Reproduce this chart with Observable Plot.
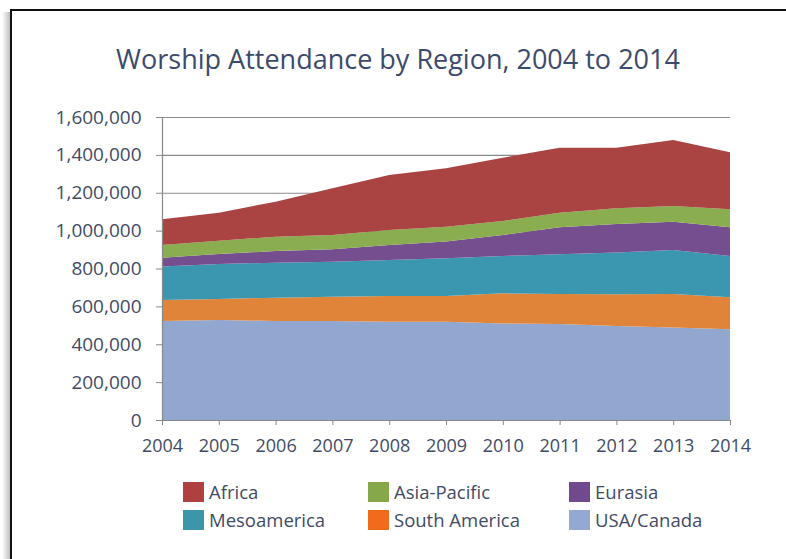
<!DOCTYPE html>
<html>
<head>
<meta charset="utf-8">
<script src="https://cdn.jsdelivr.net/npm/d3@7"></script>
<script src="https://cdn.jsdelivr.net/npm/@observablehq/plot@0.6"></script>
<style>
  html, body { margin: 0; padding: 0; background: #fff; overflow: hidden; }
  #wrap { position: relative; width: 786px; height: 559px; overflow: hidden; background: #fff; font-family: "Open Sans", sans-serif; }
  #shadow { position: absolute; left: 2px; top: 12px; width: 8px; height: 560px; background: linear-gradient(to right, rgba(0,0,0,0), rgba(0,0,0,0.25)); }
  #vline { position: absolute; left: 10px; top: 9px; width: 2px; height: 560px; background: #111; }
  #hline { position: absolute; left: 10px; top: 9px; width: 800px; height: 2px; background: #111; }
  #title { position: absolute; left: 0; width: 796px; top: 40px; text-align: center; font-size: 27px; color: #3c4a6b; }
  #chart { position: absolute; left: 0; top: 100px; }
  #legend { position: absolute; left: 0; top: 482px; width: 786px; }
  .item { position: absolute; display: flex; align-items: center; font-size: 18.5px; color: #3f4b66; line-height: 20px; }
  .sw { width: 21px; height: 20px; margin-right: 5px; }
</style>
</head>
<body>
<div id="wrap">
  <div id="shadow"></div>
  <div id="vline"></div>
  <div id="hline"></div>
  <div id="title">Worship Attendance by Region, 2004 to 2014</div>
  <div id="chart"></div>
  <div id="legend"></div>
</div>
<script>
const years = [2004, 2005, 2006, 2007, 2008, 2009, 2010, 2011, 2012, 2013, 2014];
const regions = ["USA/Canada", "South America", "Mesoamerica", "Eurasia", "Asia-Pacific", "Africa"];
const usaCanada    = [523000, 528000, 523000, 523000, 519000, 519000, 510000, 507000, 496000, 489000, 479000];
const southAmerica = [111000, 111000, 123000, 128000, 136000, 136000, 159000, 158000, 168000, 176000, 169000];
const mesoamerica  = [176000, 185000, 185000, 185000, 190000, 199000, 197000, 210000, 220000, 233000, 218000];
const eurasia      = [47000, 53000, 61000, 65000, 79000, 88000, 111000, 143000, 151000, 149000, 152000];
const asiaPacific  = [67000, 70000, 76000, 76000, 79000, 79000, 74000, 77000, 83000, 83000, 95000];
const africa       = [136000, 148000, 185000, 247000, 291000, 308000, 334000, 343000, 320000, 349000, 301000];
const yTicks = [0, 200000, 400000, 600000, 800000, 1000000, 1200000, 1400000, 1600000];

const areaColors = ["#92a7d0", "#e0843a", "#3b97af", "#744e8e", "#8aad4f", "#a94442"];
const legendOrder = ["Africa", "Asia-Pacific", "Eurasia", "Mesoamerica", "South America", "USA/Canada"];
const legendColors = {"Africa": "#b0403f", "Asia-Pacific": "#86a84a", "Eurasia": "#704a8c", "Mesoamerica": "#3a96a8", "South America": "#f26b1d", "USA/Canada": "#93a9d2"};

const series = [usaCanada, southAmerica, mesoamerica, eurasia, asiaPacific, africa];
const data = [];
regions.forEach((r, i) => years.forEach((y, j) => data.push({year: y, region: r, value: series[i][j]})));

const textColor = "#3f4b66";
const chart = Plot.plot({
  width: 786,
  height: 360,
  marginLeft: 162,
  marginRight: 56,
  marginTop: 17,
  marginBottom: 40,
  style: {fontFamily: "Open Sans, sans-serif", fontSize: "19px", color: textColor, background: "transparent"},
  x: {domain: [2004, 2014], label: null},
  y: {domain: [0, 1600000], label: null},
  color: {domain: regions, range: areaColors},
  marks: [
    Plot.ruleY(yTicks.slice(1), {stroke: "#8a8a8a", strokeWidth: 1.2}),
    Plot.areaY(data, {x: "year", y: "value", z: "region", fill: "region", order: regions}),
    Plot.axisX({ticks: years, tickFormat: d => String(d), tickSize: 5, tickPadding: 14, stroke: "#888", fill: textColor, label: null, fontSize: 18}),
    Plot.axisY({ticks: yTicks, tickFormat: d3.format(","), tickSize: 6, tickPadding: 15, stroke: "#888", fill: textColor, label: null, fontSize: 19}),
    Plot.ruleX([2004], {stroke: "#888", strokeWidth: 1.2}),
    Plot.ruleY([0], {stroke: "#888", strokeWidth: 1.2})
  ]
});
document.getElementById("chart").appendChild(chart);

const legendPos = [[183, 0], [368, 0], [569, 0], [183, 28], [368, 28], [569, 28]];
const legend = document.getElementById("legend");
legendOrder.forEach((name, i) => {
  const el = document.createElement("div");
  el.className = "item";
  el.style.left = legendPos[i][0] + "px";
  el.style.top = legendPos[i][1] + "px";
  el.innerHTML = `<div class="sw" style="background:${legendColors[name]}"></div><span>${name}</span>`;
  legend.appendChild(el);
});
</script>
</body>
</html>
